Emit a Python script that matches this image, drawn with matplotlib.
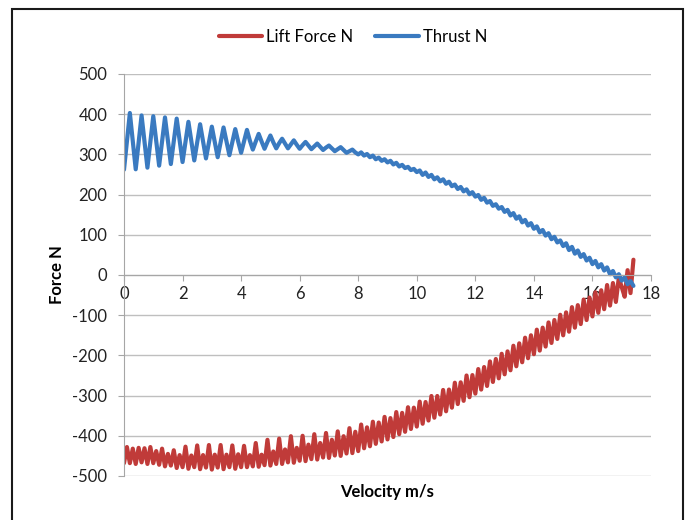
import numpy as np
import matplotlib.pyplot as plt
from matplotlib.patches import Rectangle

plt.rcParams['font.family'] = ['Lato', 'DejaVu Sans']
plt.rcParams['axes.unicode_minus'] = False

# sample grid of the velocity column (0.0 .. 17.4 m/s, step 0.1)
velocity = np.round(np.arange(175) * 0.1, 1)

# first rows of the sheet, both at v = 0
start_v = [0, 0]
lift_start = [0, -500]
thrust_start = [0, 500]

lift = [
    -468, -428, -468, -432, -470, -430, -466, -431, -470, -428,
    -468, -438, -472, -432, -476, -445, -474, -436, -480, -448,
    -478, -427, -482, -449, -478, -424, -483, -448, -479, -423,
    -484, -447, -479, -423, -483, -447, -478, -424, -482, -446,
    -478, -425, -478, -448, -476, -418, -477, -447, -473, -410,
    -474, -439, -470, -407, -470, -434, -466, -401, -467, -430,
    -462, -400, -463, -422, -458, -396, -459, -418, -454, -393,
    -455, -410, -449, -389, -450, -401, -444, -381, -443, -390,
    -438, -372, -431, -379, -426, -365, -420, -367, -414, -353,
    -409, -356, -403, -341, -396, -343, -390, -329, -383, -330,
    -377, -315, -370, -316, -362, -301, -355, -301, -347, -286,
    -339, -285, -330, -268, -321, -267, -313, -250, -304, -249,
    -295, -234, -285, -229, -276, -215, -266, -209, -257, -196,
    -247, -190, -237, -176, -227, -170, -217, -156, -207, -150,
    -197, -136, -188, -131, -178, -118, -169, -112, -159, -99,
    -150, -93, -141, -80, -131, -75, -122, -61, -112, -56,
    -103, -43, -94, -38, -85, -25, -76, -20, -67, -7,
    -30, -54, 12, -45, 38,
]

thrust = [
    262, 333, 403, 333, 263, 330, 397, 332, 267, 331,
    395, 334, 272, 332, 392, 334, 276, 332, 389, 335,
    281, 331, 381, 333, 285, 330, 375, 332, 290, 330,
    369, 331, 293, 330, 367, 332, 298, 330, 363, 332,
    304, 332, 361, 334, 312, 332, 351, 332, 314, 331,
    347, 330, 315, 328, 339, 327, 315, 325, 335, 324,
    314, 323, 331, 322, 313, 320, 327, 319, 311, 317,
    322, 315, 308, 313, 318, 311, 304, 308, 312, 305,
    300, 305, 297, 301, 293, 297, 288, 292, 284, 288,
    280, 284, 275, 279, 270, 274, 266, 269, 261, 264,
    256, 260, 249, 255, 244, 249, 238, 243, 233, 238,
    227, 232, 221, 225, 214, 219, 208, 213, 201, 206,
    195, 199, 187, 192, 180, 184, 172, 176, 165, 169,
    157, 162, 148, 154, 140, 146, 131, 137, 123, 129,
    115, 121, 106, 112, 98, 104, 89, 95, 81, 86,
    72, 79, 62, 70, 53, 61, 45, 52, 36, 43,
    27, 35, 19, 27, 11, 19, 2, 10, -6, 2,
    -14, -6, -23, -15, -27,
]

RED = '#C03B39'
BLUE = '#3A7AC0'
GRID = '#BFBFBF'
AXIS = '#A6A6A6'
FS = 12

fig = plt.figure(figsize=(6.93, 5.2), dpi=100)
ax = fig.add_axes([124 / 693, 1 - 476 / 520, (651 - 124) / 693, (476 - 74) / 520])

# thin start segments, then the main series
ax.plot(start_v + [velocity[0]], lift_start + [lift[0]], color=RED, lw=1.1)
ax.plot(start_v + [velocity[0]], thrust_start + [thrust[0]], color=BLUE, lw=1.1)
l1, = ax.plot(velocity, lift, color=RED, lw=3.0,
              solid_joinstyle='round', solid_capstyle='round')
l2, = ax.plot(velocity, thrust, color=BLUE, lw=3.0,
              solid_joinstyle='round', solid_capstyle='round')

ax.set_xlim(0, 18)
ax.set_ylim(-500, 500)
ax.set_xticks(range(0, 19, 2))
ax.set_yticks(range(-500, 501, 100))

for s in ['top', 'right']:
    ax.spines[s].set_visible(False)
ax.spines['bottom'].set_position(('data', 0))
ax.spines['bottom'].set_color(AXIS)
ax.spines['left'].set_color(AXIS)
ax.yaxis.grid(True, color=GRID, lw=1)
ax.set_axisbelow(True)
ax.tick_params(axis='x', direction='out', length=4, color=AXIS, pad=4,
               labelsize=FS, labelcolor='#222222')
ax.tick_params(axis='y', direction='out', length=4, color=AXIS, pad=8,
               labelsize=FS, labelcolor='#222222')

fig.text(387 / 693, 1 - 492 / 520, 'Velocity m/s', ha='center', va='center',
         fontsize=FS, fontweight='bold')
fig.text(57 / 693, 1 - 275 / 520, 'Force N', ha='center', va='center',
         rotation=90, fontsize=FS, fontweight='bold')

fig.legend([l1, l2], ['Lift Force N', 'Thrust N'], loc='center',
           bbox_to_anchor=(353 / 693, 1 - 37 / 520), ncol=2, frameon=False,
           fontsize=FS, handlelength=2.6, handletextpad=0.25, columnspacing=1.3)

fig.patches.append(Rectangle((12 / 693, -0.1), (683 - 12) / 693, 1.1 - 9 / 520,
                             transform=fig.transFigure, fill=False,
                             ec='#1a1a1a', lw=1.5))

fig.savefig('out.png', dpi=100)
